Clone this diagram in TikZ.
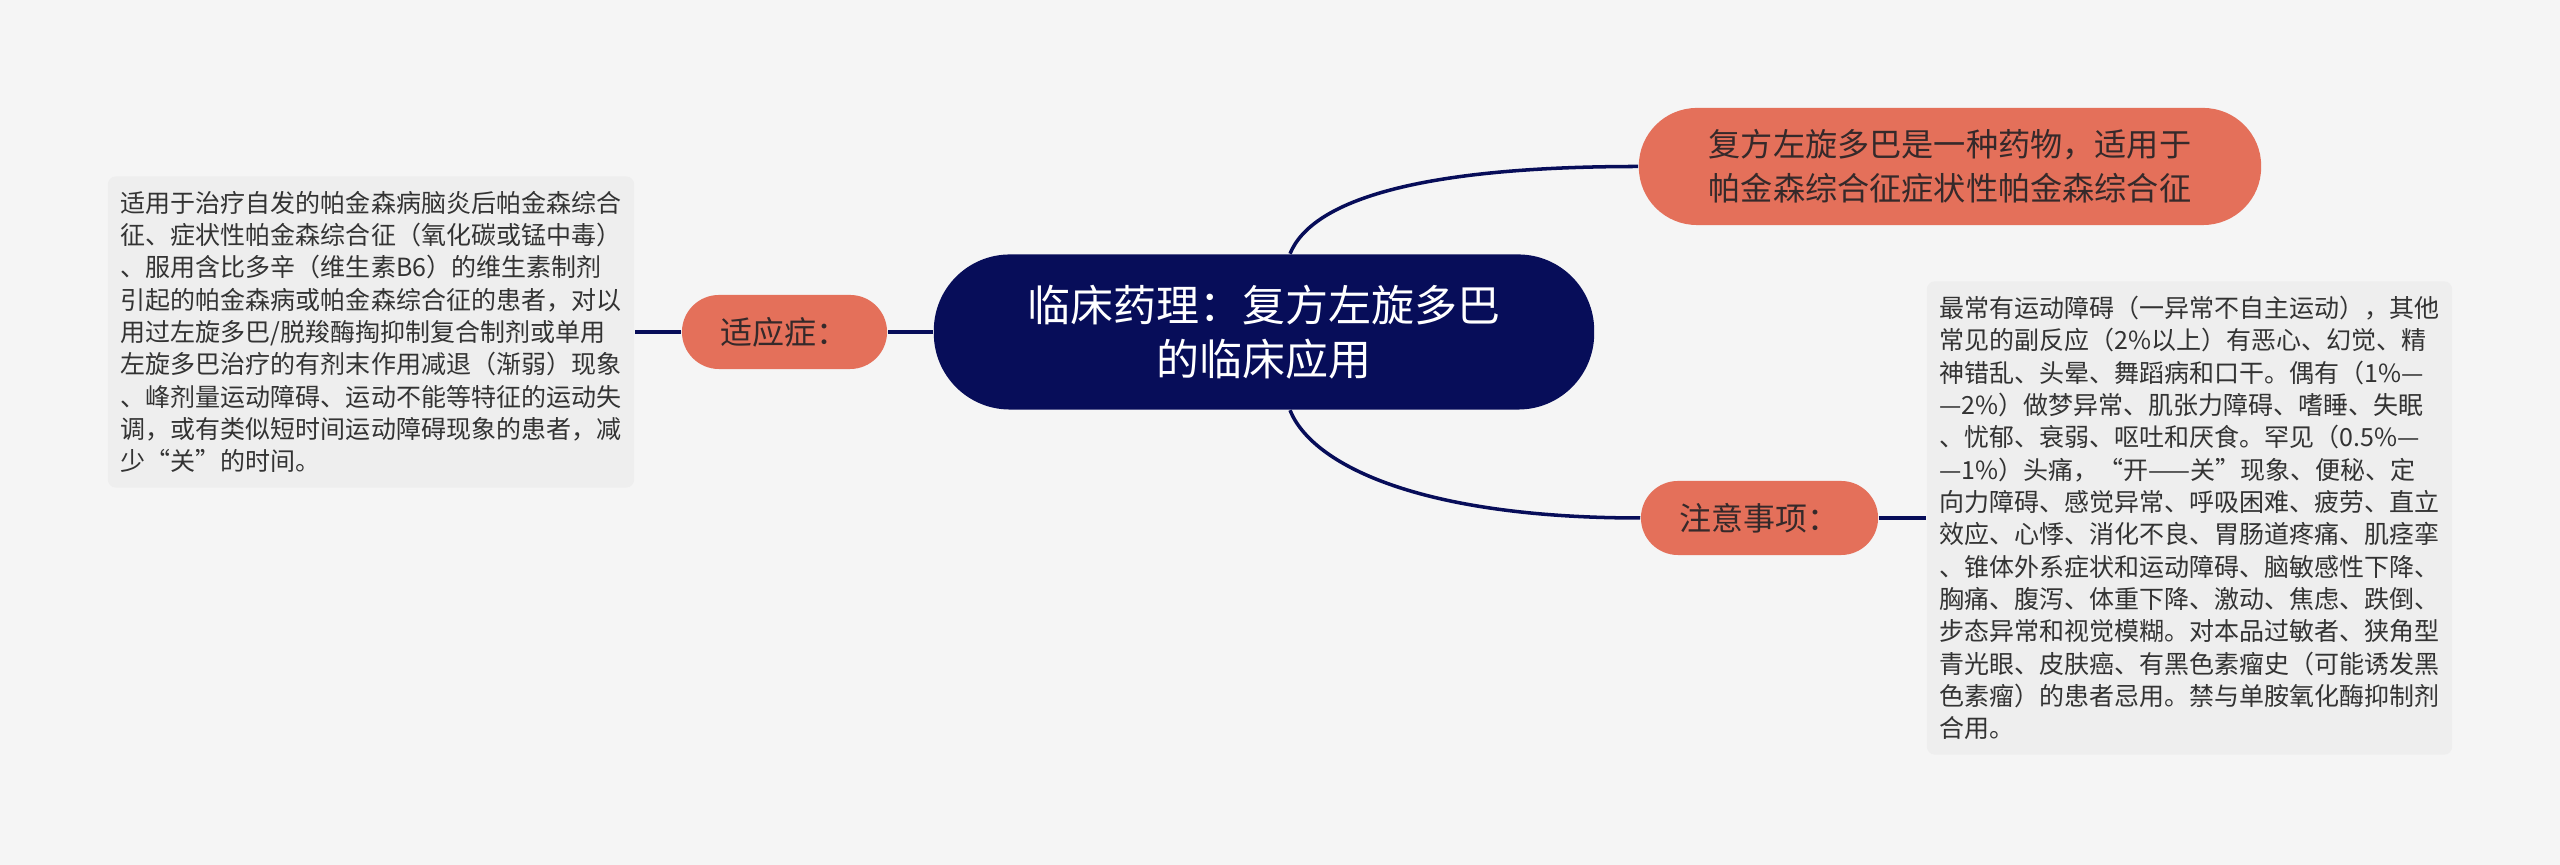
\documentclass[tikz,border=0pt]{standalone}
\usepackage{fontspec}
\setmainfont{Noto Sans CJK SC}
\newfontfamily\cjk{Noto Sans CJK SC}
\definecolor{bgc}{HTML}{F5F5F5}
\definecolor{boxc}{HTML}{EEEEEE}
\definecolor{navy}{HTML}{070D59}
\definecolor{coral}{HTML}{E4705A}
\definecolor{coraltext}{HTML}{35292A}
\definecolor{bodytext}{HTML}{333333}
\tikzset{
  conn/.style={draw=navy, line width=1pt},
  rootnode/.style={fill=navy, text=white, rounded corners=0.76cm, minimum width=6.6cm, minimum height=1.55cm, align=center, inner sep=0pt, font={\cjk\fontsize{12.23pt}{15.36pt}\selectfont}},
  pill/.style={fill=coral, text=coraltext, inner sep=0pt, align=center},
  note/.style={fill=boxc, text=bodytext, rounded corners=0.08cm, inner sep=0pt, align=left, font={\cjk\fontsize{7.11pt}{9.19pt}\selectfont}}
}
\begin{document}
\begin{tikzpicture}[x=0.01cm, y=-0.01cm]
\fill[bgc] (0,0) rectangle (2560,865);
\useasboundingbox (0,0) rectangle (2560,865);

\node[rootnode] (root) at (1264,332) {临床药理：复方左旋多巴\\的临床应用};

\node[pill, rounded corners=0.58cm, minimum width=6.22cm, minimum height=1.17cm, font={\cjk\fontsize{9.15pt}{12.52pt}\selectfont}] (drug) at (1950,166.5) {复方左旋多巴是一种药物，适用于\\帕金森综合征症状性帕金森综合征};

\node[pill, rounded corners=0.37cm, minimum width=2.05cm, minimum height=0.74cm, font={\cjk\fontsize{9.1pt}{11pt}\selectfont}] (ind) at (784.5,332) {适应症：};

\node[pill, rounded corners=0.37cm, minimum width=2.37cm, minimum height=0.74cm, font={\cjk\fontsize{9.1pt}{11pt}\selectfont}] (att) at (1759.5,518) {注意事项：};

\node[note, minimum width=5.26cm, minimum height=3.11cm] (indtext) at (371,332) {适用于治疗自发的帕金森病脑炎后帕金森综合\\
征、症状性帕金森综合征（氧化碳或锰中毒）\\
、服用含比多辛（维生素B6）的维生素制剂\\
引起的帕金森病或帕金森综合征的患者，对以\\
用过左旋多巴/脱羧酶掏抑制复合制剂或单用\\
左旋多巴治疗的有剂末作用减退（渐弱）现象\\
、峰剂量运动障碍、运动不能等特征的运动失\\
调，或有类似短时间运动障碍现象的患者，减\\
少“关”的时间。};

\node[note, minimum width=5.25cm, minimum height=4.73cm] (atttext) at (2189.5,518) {最常有运动障碍（一异常不自主运动），其他\\
常见的副反应（2\%以上）有恶心、幻觉、精\\
神错乱、头晕、舞蹈病和口干。偶有（1\%—\\
—2\%）做梦异常、肌张力障碍、嗜睡、失眠\\
、忧郁、衰弱、呕吐和厌食。罕见（0.5\%—\\
—1\%）头痛，“开——关”现象、便秘、定\\
向力障碍、感觉异常、呼吸困难、疲劳、直立\\
效应、心悸、消化不良、胃肠道疼痛、肌痉挛\\
、锥体外系症状和运动障碍、脑敏感性下降、\\
胸痛、腹泻、体重下降、激动、焦虑、跌倒、\\
步态异常和视觉模糊。对本品过敏者、狭角型\\
青光眼、皮肤癌、有黑色素瘤史（可能诱发黑\\
色素瘤）的患者忌用。禁与单胺氧化酶抑制剂\\
合用。};

\draw[conn] ([xshift=0.26cm]root.north) .. controls (1312,200) and (1420,166.5) .. (drug.west);
\draw[conn] ([xshift=0.26cm]root.south) .. controls (1312,465) and (1420,518) .. (att.west);
\draw[conn] (root.west) -- (ind.east);
\draw[conn] (ind.west) -- (indtext.east);
\draw[conn] (att.east) -- (atttext.west);
\end{tikzpicture}
\end{document}
